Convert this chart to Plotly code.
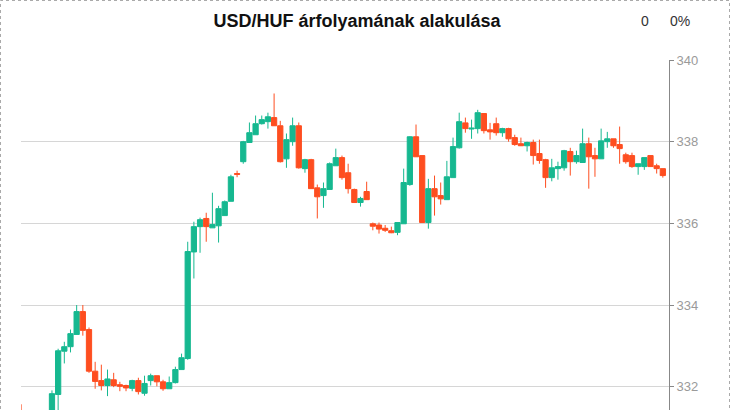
import plotly.graph_objects as go

# Candle index (hourly bars, oldest first)
idx = list(range(105))

open_ = [331.35, 331.15, 331.05, 331.18, 331.10, 331.30, 331.81, 332.87, 332.98, 333.28,
         333.84, 333.40, 332.38, 332.15, 332.03, 332.17, 332.05, 332.03, 331.96, 332.15,
         331.84, 332.15, 332.27, 332.12, 331.95, 332.10, 332.42, 332.69, 335.30, 335.92,
         336.12, 335.89, 335.94, 336.19, 336.54, 337.22, 337.51, 337.98, 338.17, 338.44,
         338.49, 338.59, 338.39, 337.58, 338.00, 338.39, 337.34, 337.56, 336.87, 336.68,
         336.83, 337.41, 337.61, 337.24, 336.83, 336.51, 336.78, 335.99, 335.96, 335.88,
         335.82, 335.78, 335.99, 336.95, 338.12, 337.66, 336.02, 336.85, 336.68, 336.58,
         337.12, 337.85, 338.46, 338.31, 338.32, 338.69, 338.29, 338.44, 338.22, 338.32,
         338.10, 337.95, 337.90, 337.98, 337.71, 337.56, 337.12, 337.34, 337.36, 337.76,
         337.51, 337.49, 337.95, 337.66, 337.58, 338.00, 338.07, 337.93, 337.68, 337.66,
         337.39, 337.39, 337.66, 337.41, 337.34]
high = [331.57, 331.30, 331.25, 331.35, 331.38, 331.91, 332.93, 333.10, 333.40, 334.00,
        334.00, 333.45, 332.61, 332.54, 332.42, 332.34, 332.12, 332.05, 332.17, 332.22,
        332.27, 332.32, 332.27, 332.17, 332.25, 332.49, 332.81, 335.55, 336.04, 336.14,
        336.26, 336.75, 336.43, 336.56, 337.19, 337.29, 338.02, 338.47, 338.64, 338.64,
        338.71, 339.18, 338.51, 338.20, 338.59, 338.47, 337.58, 337.58, 336.95, 337.00,
        337.49, 337.83, 337.66, 337.46, 336.85, 336.65, 337.02, 336.02, 336.02, 335.96,
        335.92, 336.02, 337.34, 338.13, 338.42, 337.66, 337.09, 337.17, 337.00, 337.53,
        338.10, 338.71, 338.59, 338.54, 338.78, 338.69, 338.46, 338.59, 338.34, 338.34,
        338.17, 338.10, 338.00, 338.05, 338.05, 337.58, 337.58, 337.51, 337.80, 337.85,
        337.78, 338.32, 338.10, 337.85, 338.32, 338.24, 338.07, 338.37, 337.73, 337.73,
        337.46, 337.61, 337.66, 337.46, 337.34]
low = [331.05, 330.95, 330.90, 331.00, 330.98, 331.20, 331.35, 332.57, 332.84, 333.28,
       333.25, 332.34, 331.95, 331.91, 331.77, 331.99, 331.89, 331.89, 331.89, 331.81,
       331.78, 332.03, 332.01, 331.90, 331.95, 332.08, 332.42, 332.66, 334.65, 335.28,
       335.55, 335.89, 335.53, 336.19, 336.54, 337.13, 337.46, 337.98, 338.17, 338.42,
       338.32, 338.39, 337.49, 337.36, 337.90, 337.34, 337.24, 336.85, 336.12, 336.38,
       336.83, 337.41, 337.07, 336.73, 336.51, 336.41, 336.58, 335.83, 335.75, 335.79,
       335.76, 335.71, 335.99, 336.92, 337.63, 336.02, 335.87, 336.19, 336.46, 336.58,
       337.12, 337.83, 338.22, 338.07, 338.20, 338.20, 338.05, 338.15, 338.12, 338.00,
       337.90, 337.90, 337.76, 337.44, 337.46, 336.87, 337.03, 337.07, 337.29, 337.17,
       337.46, 337.49, 336.85, 337.14, 337.58, 337.85, 337.85, 337.46, 337.46, 337.36,
       337.19, 337.31, 337.39, 337.22, 337.12]
close = [331.15, 331.05, 331.18, 331.10, 331.30, 331.83, 332.88, 332.98, 333.30, 333.84,
         333.38, 332.38, 332.13, 332.03, 332.19, 332.03, 332.01, 331.97, 332.15, 331.88,
         332.08, 332.27, 332.12, 331.95, 332.10, 332.42, 332.71, 335.31, 335.92, 336.09,
         335.92, 335.97, 336.36, 336.53, 337.14, 337.20, 338.00, 338.22, 338.44, 338.54,
         338.61, 338.39, 337.51, 338.05, 338.39, 337.36, 337.56, 336.85, 336.65, 336.85,
         337.46, 337.61, 337.12, 336.85, 336.51, 336.61, 336.58, 335.93, 335.86, 335.83,
         335.77, 336.02, 337.00, 338.12, 337.63, 336.02, 336.85, 336.65, 336.60, 337.14,
         337.88, 338.49, 338.32, 338.33, 338.71, 338.27, 338.24, 338.22, 338.32, 338.07,
         337.93, 337.90, 337.98, 337.66, 337.54, 337.12, 337.36, 337.39, 337.78, 337.51,
         337.66, 337.95, 337.63, 337.58, 338.02, 338.07, 337.90, 337.83, 337.51, 337.39,
         337.46, 337.61, 337.39, 337.34, 337.17]

y_ticks = [332, 334, 336, 338, 340]
title_text = "USD/HUF árfolyamának alakulása"
change_abs = "0"
change_pct = "0%"

GREEN = "#16b890"
RED = "#fe4e20"

W, H = 730, 410
ML, MR, MT, MB = 21, 61, 60, 0
PW, PH = W - ML - MR, H - MT - MB


def px_x(x):
    return (x - ML) / PW


def px_y(y):
    return (H - MB - y) / PH


fig = go.Figure(go.Candlestick(
    x=idx, open=open_, high=high, low=low, close=close,
    increasing=dict(line=dict(color=GREEN, width=1), fillcolor=GREEN),
    decreasing=dict(line=dict(color=RED, width=1), fillcolor=RED),
    whiskerwidth=0,
    hoverinfo="skip",
    showlegend=False,
))

fig.update_layout(
    width=W, height=H,
    margin=dict(l=ML, r=MR, t=MT, b=MB),
    paper_bgcolor="white", plot_bgcolor="white",
    boxgap=0.15, boxgroupgap=0,
    font=dict(family="Liberation Sans, Arial, sans-serif"),
    title=dict(text="<b>" + title_text + "</b>", x=357 / W, xanchor="center",
               y=1 - 21 / H, yanchor="middle",
               font=dict(size=18, color="#111111")),
    xaxis=dict(visible=False, range=[-0.02, 105.0], rangeslider=dict(visible=False)),
    yaxis=dict(side="right", range=[331.43, 340], tickvals=y_ticks,
               showgrid=True, gridcolor="#d6d6d6", gridwidth=1,
               showline=True, linecolor="#888888", linewidth=1,
               ticks="outside", ticklen=4, tickcolor="#888888",
               tickfont=dict(size=13, color="#9a9a9a"), zeroline=False),
    annotations=[
        dict(text=change_abs, x=px_x(645), y=px_y(21), xref="paper", yref="paper",
             xanchor="center", yanchor="middle", showarrow=False,
             font=dict(size=14, color="#333333")),
        dict(text=change_pct, x=px_x(680), y=px_y(21), xref="paper", yref="paper",
             xanchor="center", yanchor="middle", showarrow=False,
             font=dict(size=14, color="#333333")),
    ],
    shapes=[dict(type="rect", xref="paper", yref="paper",
                 x0=px_x(0.5), x1=px_x(729.5), y0=-0.5, y1=px_y(0.5),
                 line=dict(color="#aaaaaa", width=1, dash="3px,3px"), layer="above")],
)

fig.write_html("out.html", config={"displayModeBar": False},
               post_script="document.body.style.margin='0';document.body.style.overflow='hidden';")
